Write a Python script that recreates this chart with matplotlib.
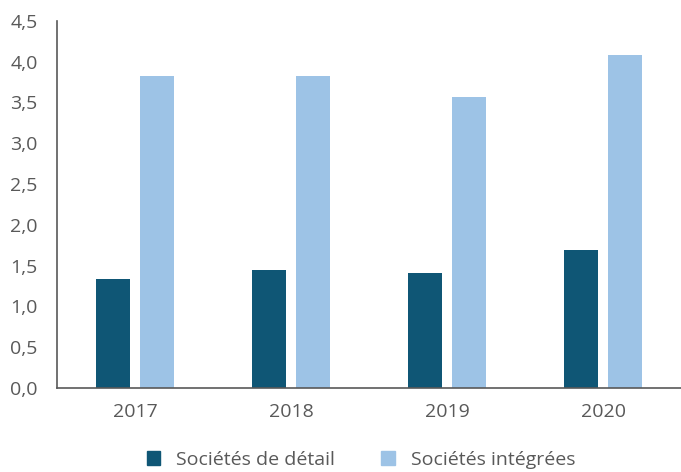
import numpy as np
import matplotlib
matplotlib.use('Agg')
import matplotlib.pyplot as plt
from matplotlib.patches import Patch

# données
annees = ['2017', '2018', '2019', '2020']
detail = [1.34, 1.45, 1.41, 1.69]
integrees = [3.82, 3.82, 3.56, 4.08]
noms_series = ['Sociétés de détail', 'Sociétés intégrées']
yticks = [0.0, 0.5, 1.0, 1.5, 2.0, 2.5, 3.0, 3.5, 4.0, 4.5]

FONCE = '#0f5675'
CLAIR = '#9dc3e6'
GRIS = '#595959'

plt.rcParams['font.family'] = ['Open Sans', 'DejaVu Sans']

fig = plt.figure(figsize=(6.81, 4.72), dpi=100)
ax = fig.add_axes([0.084, 0.178, 0.916, 0.778])

x = np.arange(len(annees))
w = 0.217
off = 0.141
ax.bar(x - off, detail, w, color=FONCE, zorder=2)
ax.bar(x + off, integrees, w, color=CLAIR, zorder=2)

ax.set_xlim(-0.5, len(annees) - 0.5)
ax.set_ylim(0, 4.5)
ax.set_yticks(yticks)
ax.set_yticklabels([f'{v:.1f}'.replace('.', ',') for v in yticks])
ax.set_xticks(x)
ax.set_xticklabels(annees)
ax.tick_params(axis='both', length=0, labelsize=14, colors=GRIS)
ax.tick_params(axis='y', pad=14)
ax.tick_params(axis='x', pad=11)

for s in ['top', 'right']:
    ax.spines[s].set_visible(False)
for s in ['left', 'bottom']:
    ax.spines[s].set_color(GRIS)
    ax.spines[s].set_linewidth(1.2)

handles = [Patch(color=FONCE), Patch(color=CLAIR)]
fig.legend(handles, noms_series, loc='lower center', bbox_to_anchor=(0.53, -0.03),
           ncol=2, frameon=False, fontsize=14, labelcolor=GRIS,
           handlelength=0.7, handleheight=0.7, columnspacing=2.4, handletextpad=0.8)

fig.savefig('out.png', dpi=100)
